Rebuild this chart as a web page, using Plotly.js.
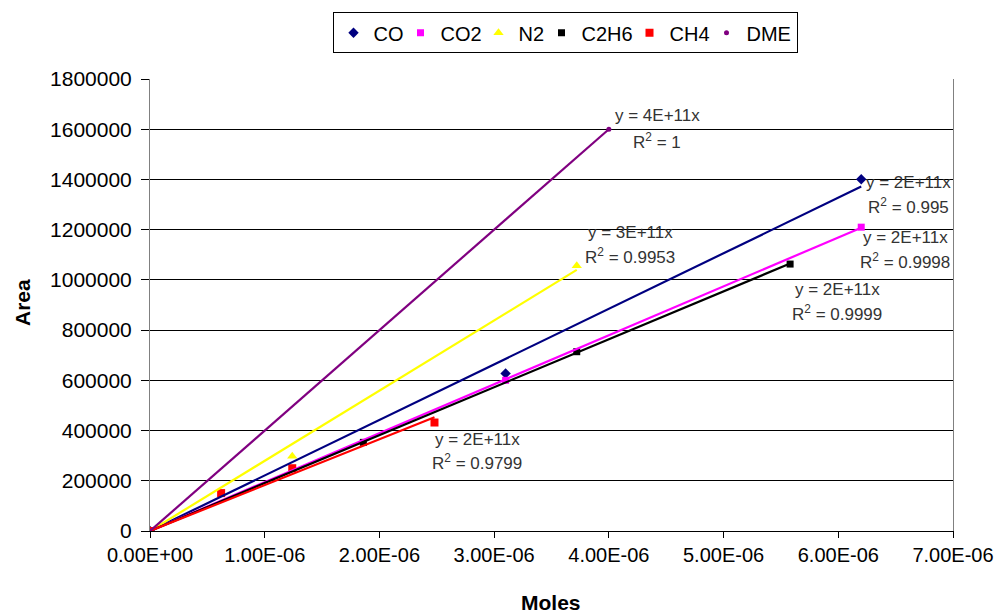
<!DOCTYPE html>
<html><head><meta charset="utf-8">
<script src="https://cdn.plot.ly/plotly-3.0.1.min.js"></script>
<style>html,body{margin:0;padding:0;background:#fff}#chart{width:999px;height:614px}</style>
</head><body><div id="chart"></div>
<script>
// ---- data ----
const seriesNames = ['CO', 'CO2', 'N2', 'C2H6', 'CH4', 'DME'];
const coMoles   = [0, 3.10e-6, 6.20e-6];
const coArea    = [0, 627000, 1401000];
const co2Moles  = [0, 3.10e-6, 6.20e-6];
const co2Area   = [0, 600000, 1210000];
const n2Moles   = [0, 1.24e-6, 3.72e-6];
const n2Area    = [0, 298000, 1056000];
const c2h6Moles = [0, 1.86e-6, 3.72e-6, 5.58e-6];
const c2h6Area  = [0, 353000, 714000, 1063000];
const ch4Moles  = [0, 0.62e-6, 1.24e-6, 2.48e-6];
const ch4Area   = [0, 151000, 250000, 432000];
const dmeMoles  = [0, 4.00e-6];
const dmeArea   = [0, 1600000];
const trendEquations = ['y = 2E+11x', 'y = 2E+11x', 'y = 3E+11x', 'y = 2E+11x', 'y = 2E+11x', 'y = 4E+11x'];
const trendR2        = ['0.995', '0.9998', '0.9953', '0.9999', '0.9799', '1'];
const xTickVals = [0, 1e-6, 2e-6, 3e-6, 4e-6, 5e-6, 6e-6, 7e-6];
const xTickText = ['0.00E+00', '1.00E-06', '2.00E-06', '3.00E-06', '4.00E-06', '5.00E-06', '6.00E-06', '7.00E-06'];

// ---- styling ----
const colors  = ['#000080', '#FF00FF', '#FFFF00', '#000000', '#FF0000', '#800080'];
const symbols = ['diamond', 'square', 'triangle-up', 'square', 'square', 'circle'];
const sizes   = [8, 7, 9, 7, 8, 5];
const legendWidths = [22, 33, 18, 43, 32, 0];   // tighten legend spacing (px of text slot)
const xs = [coMoles, co2Moles, n2Moles, c2h6Moles, ch4Moles, dmeMoles];
const ys = [coArea, co2Area, n2Area, c2h6Area, ch4Area, dmeArea];
const FONT = 'Liberation Sans, Arial, sans-serif';

const traces = [];
seriesNames.forEach((n, i) => {
  const t = {x: xs[i], y: ys[i], name: n, type: 'scatter', mode: 'markers',
    marker: {symbol: symbols[i], size: sizes[i], color: colors[i], line: {width: 0}}};
  if (legendWidths[i]) t.legendwidth = legendWidths[i];
  traces.push(t);
});
// linear trendlines through the origin (least squares, like the spreadsheet's)
seriesNames.forEach((n, i) => {
  let sxy = 0, sxx = 0;
  xs[i].forEach((x, k) => { sxy += x * ys[i][k]; sxx += x * x; });
  const a = sxy / sxx;
  const xmax = Math.max(...xs[i]);
  traces.push({x: [0, xmax], y: [0, a * xmax], type: 'scatter', mode: 'lines',
    showlegend: false, hoverinfo: 'skip', line: {color: colors[i], width: 2.2}});
});

// label positions (pixel centres in the picture) -> paper coordinates
const L = 150, T = 77, W = 803, H = 454;
const px = v => (v - L) / W, py = v => (T + H - v) / H;
const labelPos = [[908, 181, 205], [905, 236, 260], [630, 231, 255], [837, 288, 312], [477, 439, 462], [657, 114, 139]];
const annotations = [];
labelPos.forEach((p, i) => {
  annotations.push({xref: 'paper', yref: 'paper', x: px(p[0]), y: py(p[1]), text: trendEquations[i],
    showarrow: false, xanchor: 'center', yanchor: 'middle', font: {family: FONT, size: 17, color: '#333'}});
  annotations.push({xref: 'paper', yref: 'paper', x: px(p[0]), y: py(p[2]), text: 'R<sup>2</sup> = ' + trendR2[i],
    showarrow: false, xanchor: 'center', yanchor: 'middle', font: {family: FONT, size: 17, color: '#333'}});
});
annotations.push({xref: 'paper', yref: 'paper', x: px(551), y: py(603), text: '<b>Moles</b>', showarrow: false,
  xanchor: 'center', yanchor: 'middle', font: {family: FONT, size: 21, color: '#000'}});
annotations.push({xref: 'paper', yref: 'paper', x: px(22), y: py(302), text: '<b>Area</b>', showarrow: false, textangle: -90,
  xanchor: 'center', yanchor: 'middle', font: {family: FONT, size: 21, color: '#000'}});

const layout = {
  width: 999, height: 614,
  margin: {l: L, r: 999 - L - W, t: T, b: 614 - T - H, pad: 0},
  paper_bgcolor: '#fff', plot_bgcolor: '#fff',
  font: {family: FONT, color: '#000'},
  showlegend: true,
  legend: {orientation: 'h', x: px(565), y: py(10), xanchor: 'center', yanchor: 'top',
    bordercolor: '#000', borderwidth: 1, bgcolor: '#fff', font: {family: FONT, size: 20, color: '#000'},
    itemwidth: 30, tracegroupgap: 0},
  xaxis: {range: [0, 7e-6], tickvals: xTickVals, ticktext: xTickText, showgrid: false, zeroline: false,
    showline: true, linecolor: '#000', linewidth: 1, ticks: 'outside', ticklen: 6, tickcolor: '#000',
    tickfont: {family: FONT, size: 20, color: '#000'}, fixedrange: true},
  yaxis: {range: [0, 1800000], dtick: 200000, tickformat: 'd', showgrid: true, gridcolor: '#000', gridwidth: 1,
    zeroline: false, showline: true, linecolor: '#808080', linewidth: 1, mirror: true,
    ticks: 'outside', ticklen: 8, tickcolor: '#000', ticklabelstandoff: 5,
    tickfont: {family: FONT, size: 21, color: '#000'}, fixedrange: true},
  annotations: annotations
};
Plotly.newPlot('chart', traces, layout, {staticPlot: true, displayModeBar: false});
</script>
</body></html>
